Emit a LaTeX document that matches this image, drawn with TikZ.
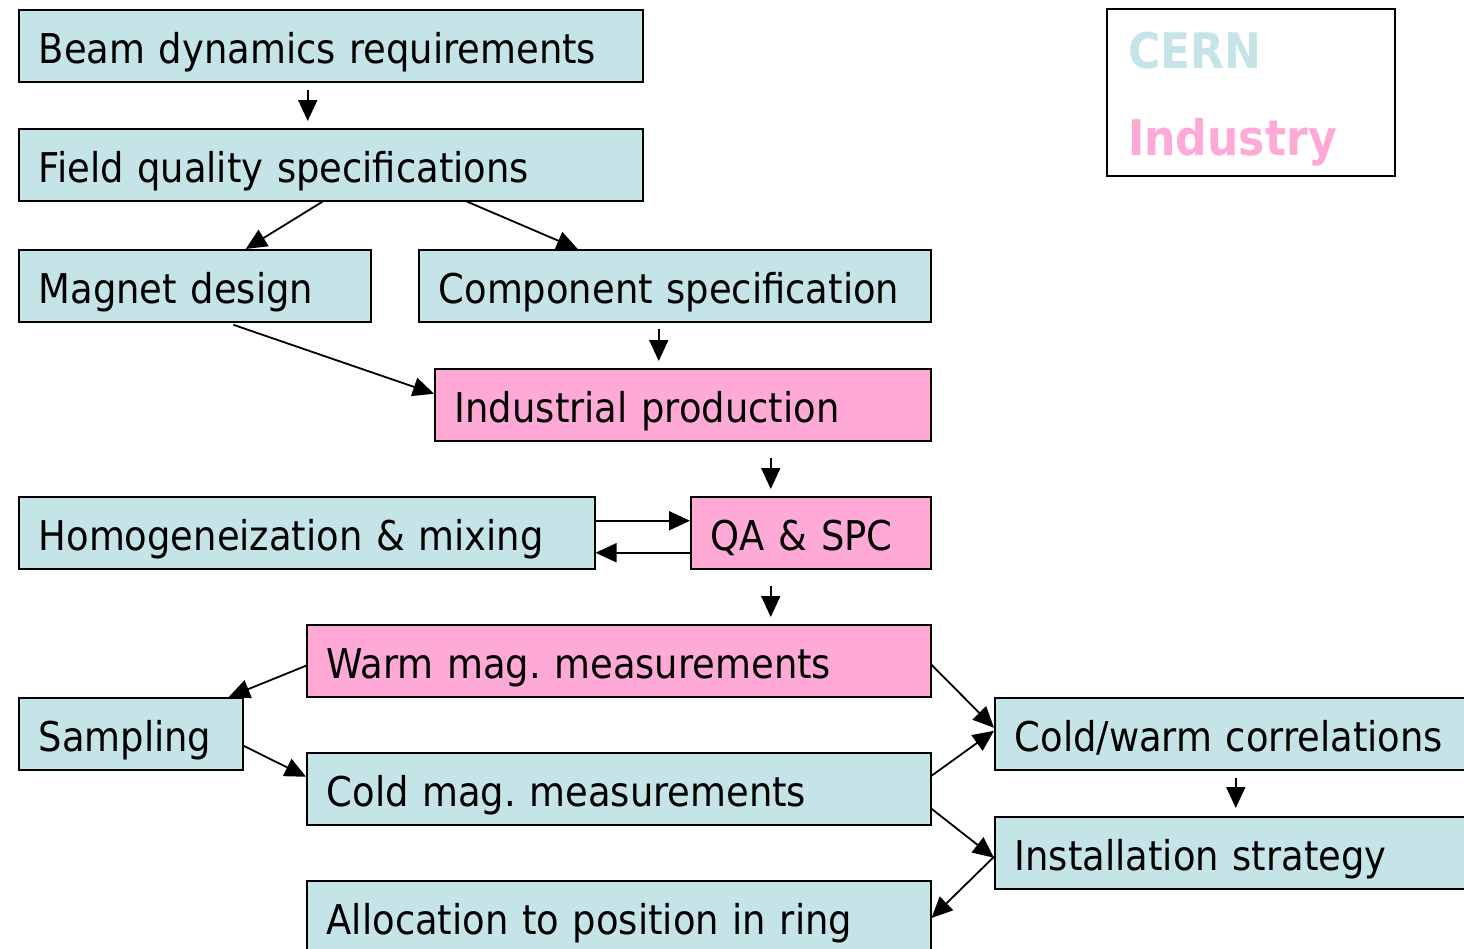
\documentclass[tikz,border=0pt]{standalone}
\usepackage{fontspec}
\setmainfont{DejaVu Sans Condensed}
\usetikzlibrary{arrows.meta,calc}
\frenchspacing
\definecolor{cernc}{RGB}{197,228,231}
\definecolor{indc}{RGB}{255,170,214}
\tikzset{
  box/.style={draw=black, line width=1.5pt, anchor=north west, minimum height=72pt,
    inner xsep=20pt, inner ysep=0pt, align=left, text height=36pt, text depth=0pt,
    font=\fontsize{41}{48}\selectfont},
  cbox/.style={box, fill=cernc},
  pbox/.style={box, fill=indc},
  arr/.style={draw=black, line width=1.8pt, -{Triangle[length=21pt,width=19pt]}}
}
\begin{document}
\begin{tikzpicture}[x=1pt,y=-1pt]
\useasboundingbox (0,0) rectangle (1464,948);
\clip (0,0) rectangle (1464,948);
\node[cbox, text width=584pt] (beam) at (18,9) {Beam dynamics requirements};
\node[cbox, text width=584pt] (field) at (18,128) {Field quality specifications};
\node[cbox, text width=312pt] (magnet) at (18,249) {Magnet design};
\node[cbox, text width=472pt] (comp) at (418,249) {Component specification};
\node[pbox, text width=456pt] (indus) at (434,368) {Industrial production};
\node[cbox, text width=536pt] (homog) at (18,496) {Homogeneization \& mixing};
\node[pbox, text width=200pt] (qa) at (690,496) {QA \& SPC};
\node[pbox, text width=584pt] (warm) at (306,624) {Warm mag. measurements};
\node[cbox, text width=184pt] (samp) at (18,697) {Sampling};
\node[cbox, text width=584pt] (cold) at (306,752) {Cold mag. measurements};
\node[cbox, text width=480pt] (corr) at (994,697) {Cold/warm correlations};
\node[cbox, text width=480pt] (inst) at (994,816) {Installation strategy};
\node[cbox, text width=584pt] (alloc) at (306,880) {Allocation to position in ring};
\node[draw=black, line width=1.5pt, anchor=north west, minimum width=288pt, minimum height=167pt] (legend) at (1106,8) {};
\node[anchor=base west, inner sep=0pt, text=cernc, font=\fontsize{49}{52}\selectfont\bfseries] (cern) at (1128,68) {CERN};
\node[anchor=base west, inner sep=0pt, text=indc, font=\fontsize{49}{52}\selectfont\bfseries] (ind) at (1128,155) {Industry};
% arrows
\draw[arr, shorten <=7pt, shorten >=7pt] ([xshift=-23pt]beam.south) -- ([xshift=-23pt]field.north);
\draw[arr] ([xshift=-8pt]field.south) -- ([xshift=51pt]magnet.north);
\draw[arr] ([xshift=136pt]field.south) -- ([xshift=-97pt]comp.north);
\draw[arr, shorten <=6pt, shorten >=7pt] ([xshift=-16pt]comp.south) -- ([xshift=-24pt]indus.north);
\draw[arr, shorten <=7pt] ([xshift=32pt]magnet.south) -- ([yshift=11pt]indus.west);
\draw[arr, shorten <=16pt, shorten >=7pt] ([xshift=88pt]indus.south) -- ([xshift=-40pt]qa.north);
\draw[arr] ([yshift=12pt]homog.east) -- ([yshift=12pt]qa.west);
\draw[arr] ([yshift=-20pt]qa.west) -- ([yshift=-20pt]homog.east);
\draw[arr, shorten <=16pt, shorten >=7pt] ([xshift=-40pt]qa.south) -- ([xshift=152pt]warm.north);
\draw[arr] ([yshift=-5pt]warm.west) -- ([xshift=98pt]samp.north);
\draw[arr] ([yshift=-12pt]samp.east) -- ([yshift=12pt]cold.west);
\draw[arr] ([yshift=-4pt]warm.east) -- ([yshift=6pt]corr.west);
\draw[arr] ([yshift=13pt]cold.east) -- ([yshift=3pt]corr.west);
\draw[arr] ([yshift=-20pt]cold.east) -- ([yshift=-5pt]inst.west);
\draw[arr] ([yshift=-4pt]inst.west) -- ([yshift=-38pt]alloc.north east);
\draw[arr, shorten <=7pt, shorten >=8pt] ([xshift=-19pt]corr.south) -- ([xshift=-19pt]inst.north);
\end{tikzpicture}
\end{document}
